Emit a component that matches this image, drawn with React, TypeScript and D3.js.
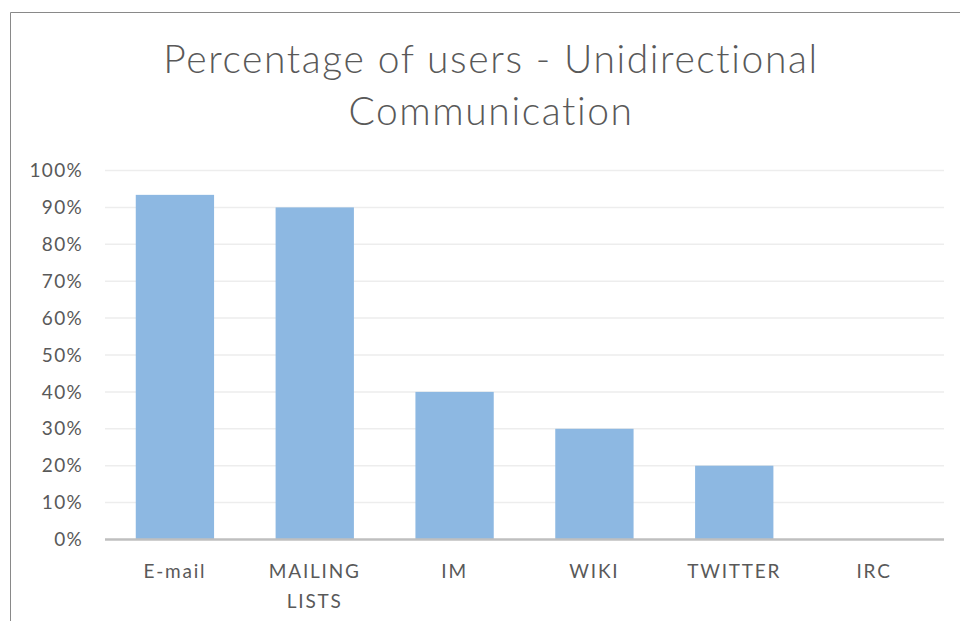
import React from "react";
import * as d3 from "d3";

const categories: string[][] = [["E-mail"], ["MAILING", "LISTS"], ["IM"], ["WIKI"], ["TWITTER"], ["IRC"]];
const values: number[] = [93.4, 90, 40, 30, 20, 0];
const yTicks: number[] = [0, 10, 20, 30, 40, 50, 60, 70, 80, 90, 100];
const titleLines: string[] = ["Percentage of users - Unidirectional", "Communication"];

export default function App() {
  const W = 960, H = 621;
  const left = 105, right = 944, top = 170.5, bottom = 539.5;
  const x = d3.scaleBand<number>().domain(d3.range(categories.length)).range([left, right]).paddingInner(0.44).paddingOuter(0.22);
  const y = d3.scaleLinear().domain([0, 100]).range([bottom, top]);
  const font = "Lato, 'Open Sans', sans-serif";
  return (
    <svg width={W} height={H} style={{ position: "absolute", left: 0, top: 0, background: "#fff" }}>
      <rect x={0} y={0} width={W} height={H} fill="#fff" />
      <path d={`M10.5,${H} V12.5 H${W}`} fill="none" stroke="#898989" strokeWidth={1} />
      {titleLines.map((t, i) => (
        <text key={i} x={491} y={73 + i * 52} textAnchor="middle" fontFamily={font} fontWeight={300} fontSize={39} letterSpacing={1.6} fill="#595959">{t}</text>
      ))}
      {yTicks.map((t) => (
        <g key={t}>
          {t > 0 && <line x1={left} x2={right} y1={y(t)} y2={y(t)} stroke="#ededed" strokeWidth={1.5} />}
          <text x={83} y={y(t)} dy="0.35em" textAnchor="end" fontFamily={font} fontSize={19} letterSpacing={1.3} fill="#595959">{t}%</text>
        </g>
      ))}
      {values.map((v, i) => (
        <rect key={i} x={x(i)} y={y(v)} width={x.bandwidth()} height={bottom - y(v)} fill="#8db8e2" />
      ))}
      <line x1={left} x2={right} y1={bottom} y2={bottom} stroke="#bfbfbf" strokeWidth={2.5} />
      {categories.map((lines, i) => (
        <text key={i} x={(x(i) as number) + x.bandwidth() / 2} y={578} textAnchor="middle" fontFamily={font} fontSize={19} letterSpacing={1.8} fill="#595959">
          {lines.map((l, j) => (
            <tspan key={j} x={(x(i) as number) + x.bandwidth() / 2} dy={j === 0 ? 0 : 30}>{l}</tspan>
          ))}
        </text>
      ))}
    </svg>
  );
}
